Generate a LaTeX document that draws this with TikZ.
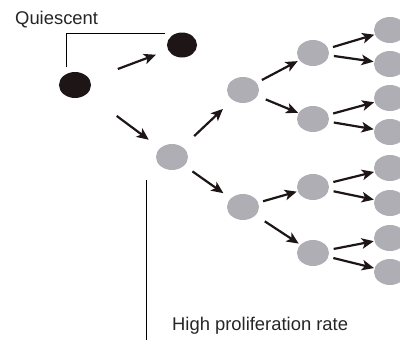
\documentclass[tikz,border=0pt]{standalone}
\usepackage{fontspec}
\setmainfont{Liberation Sans}
\usetikzlibrary{shapes.geometric,arrows.meta}
\definecolor{cellblack}{RGB}{30,22,22}
\definecolor{cellgrey}{RGB}{174,174,180}
\definecolor{arrowblack}{RGB}{30,22,22}
\begin{document}
\begin{tikzpicture}[x=1pt,y=-1pt,
  cell/.style={ellipse,minimum width=32pt,minimum height=26pt,inner sep=0pt,draw=none},
  dark/.style={cell,fill=cellblack},
  grey/.style={cell,fill=cellgrey},
  arr/.style={line width=2.2pt,draw=arrowblack,-{Stealth[length=12pt,width=10.5pt,inset=3pt]}},
  thinline/.style={line width=0.9pt,draw=black},
  lbl/.style={anchor=base west,inner sep=0pt,text=black!85,font=\fontsize{18.4}{20}\selectfont}]
\useasboundingbox (0,0) rectangle (400,340);
% cells
\node[dark] (q1) at (75,85) {};
\node[dark,minimum width=30pt,minimum height=25pt] (q2) at (182,45) {};
\node[grey] (a) at (172,157) {};
\node[grey] (b) at (243,90) {};
\node[grey] (f) at (243,207) {};
\node[grey] (c) at (313,53) {};
\node[grey] (d) at (313,119) {};
\node[grey] (g) at (313,187) {};
\node[grey] (h) at (313,253) {};
\node[grey] (e1) at (390,30) {};
\node[grey] (e2) at (390,64) {};
\node[grey] (e3) at (390,98) {};
\node[grey] (e4) at (390,132) {};
\node[grey] (e5) at (390,168) {};
\node[grey] (e6) at (390,203) {};
\node[grey] (e7) at (390,238) {};
\node[grey] (e8) at (390,272) {};
% labels
\node[lbl] (quies) at (15,24) {Quiescent};
\node[lbl] (hpr) at (172,330) {High proliferation rate};
% thin lines
\coordinate (qa) at (66,67);
\coordinate (qb) at (165,33);
\draw[thinline] (qa) |- (qb);
\coordinate (va) at (146,180);
\coordinate (vb) at (146,341);
\draw[thinline] (va) -- (vb);
% arrows
\draw[arr,shorten <=30pt,shorten >=13pt] (q1) -- (q2);
\draw[arr,shorten <=37pt,shorten >=14pt] (q1) -- (a);
\draw[arr,shorten <=16pt,shorten >=13pt] (a) -- (b);
\draw[arr,shorten <=10pt,shorten >=9pt] (a) -- (f);
\draw[arr,shorten <=6pt,shorten >=2pt] (b) -- (c);
\draw[arr,shorten <=9pt,shorten >=0.5pt] (b) -- (d);
\draw[arr,shorten <=5pt,shorten >=1pt] (f) -- (g);
\draw[arr,shorten <=11pt,shorten >=2pt] (f) -- (h);
\foreach \s/\u/\l in {c/e1/e2,d/e3/e4,g/e5/e6,h/e7/e8}{
  \draw[arr,shorten <=5pt,shorten >=0.5pt] (\s) -- (\u);
  \draw[arr,shorten <=5pt,shorten >=0.5pt] (\s) -- (\l);
}
\end{tikzpicture}
\end{document}
